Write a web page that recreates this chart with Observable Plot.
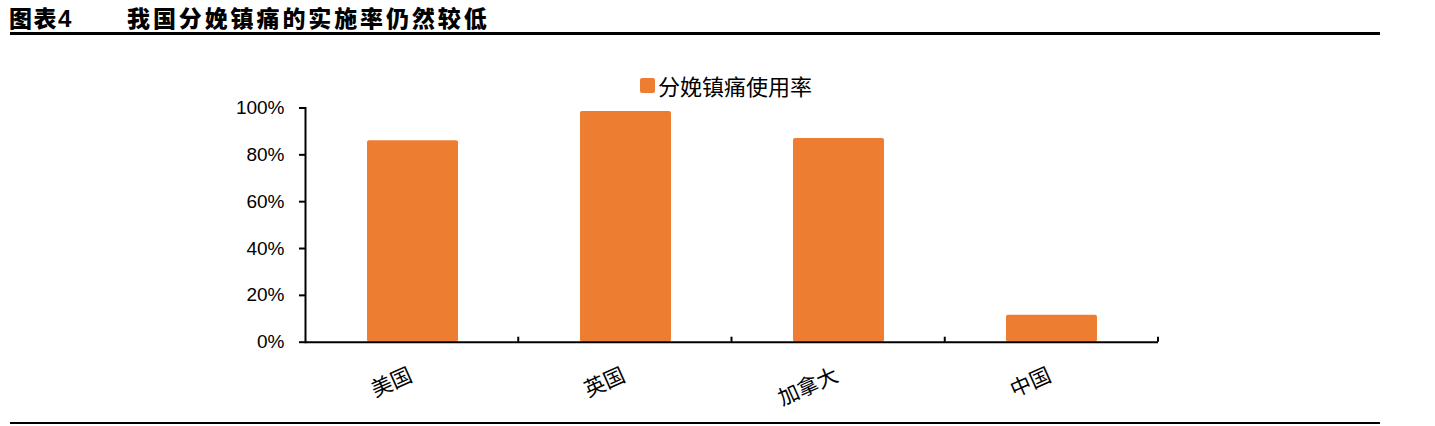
<!DOCTYPE html>
<html>
<head>
<meta charset="utf-8">
<script src="https://cdn.jsdelivr.net/npm/d3@7"></script>
<script src="https://cdn.jsdelivr.net/npm/@observablehq/plot@0.6"></script>
<style>
  html, body { margin: 0; padding: 0; background: #fff; }
  #page { position: relative; width: 1435px; height: 426px; overflow: hidden; background: #fff; }
  .title { position: absolute; top: 0px; font-family: "Noto Sans CJK SC", sans-serif; font-weight: 900; font-size: 23px; line-height: normal; color: #000; white-space: nowrap; }
  .rule { position: absolute; left: 10px; width: 1370px; background: #000; }
  #legend { position: absolute; left: 640px; top: 72px; display: flex; align-items: center; font-family: "Noto Sans CJK SC", sans-serif; font-size: 22px; line-height: 26px; color: #000; white-space: nowrap; }
  #legend .sw { width: 15px; height: 15px; background: #ED7D31; border-radius: 2px; margin-right: 3px; }
  #chart { position: absolute; left: 0; top: 60px; }
</style>
</head>
<body>
<div id="page">
  <div class="title" style="left:9px; letter-spacing:1.5px;">图表<span style="font-family:'Liberation Sans',Arial,sans-serif; font-size:24px;">4</span></div>
  <div class="title" style="left:127px; letter-spacing:2.9px;">我国分娩镇痛的实施率仍然较低</div>
  <div class="rule" style="top:32px; height:2.5px;"></div>
  <div id="legend"><div class="sw"></div><span id="legend-text"></span></div>
  <div id="chart"></div>
  <div class="rule" style="top:421.5px; height:2.5px;"></div>
</div>
<script>
const categories = ["美国", "英国", "加拿大", "中国"];
const rates = [86, 98.5, 87, 11.5];
const yTicks = [0, 20, 40, 60, 80, 100];
const seriesName = "分娩镇痛使用率";
const barColor = "#ED7D31";

const data = categories.map((c, i) => ({country: c, rate: rates[i]}));
document.getElementById("legend-text").textContent = seriesName;

const boundaryTicks = (index, scales, values, dimensions) => {
  const {width, marginLeft, marginRight} = dimensions;
  const step = (width - marginLeft - marginRight) / categories.length;
  const y0 = scales.y(0);
  const g = d3.create("svg:g").attr("stroke", "#000").attr("stroke-width", 2);
  for (let i = 1; i <= categories.length; i++) {
    const x = marginLeft + i * step;
    g.append("line").attr("x1", x).attr("x2", x).attr("y1", y0).attr("y2", y0 - 5);
  }
  return g.node();
};

const chart = Plot.plot({
  width: 1435,
  height: 360,
  marginLeft: 305,
  marginRight: 277,
  marginTop: 47.5,
  marginBottom: 78.3,
  style: {background: "transparent", fontFamily: "'Liberation Sans', Arial, sans-serif", color: "#000"},
  x: {domain: categories, paddingInner: 0.575, paddingOuter: 0.2875, axis: null},
  y: {domain: [0, 100], axis: null},
  marks: [
    Plot.barY(data, {x: "country", y: "rate", fill: barColor, rx: 2}),
    Plot.axisY({ticks: yTicks, tickFormat: d => d + "%", tickSize: 6, tickPadding: 15, fontSize: 19, strokeWidth: 2, label: null}),
    Plot.ruleY([0], {strokeWidth: 2}),
    Plot.frame({anchor: "left", strokeWidth: 2}),
    boundaryTicks,
    Plot.text(categories, {x: d => d, frameAnchor: "bottom", text: d => d, rotate: -24, textAnchor: "end", lineAnchor: "middle", dx: -2, dy: 32, fontSize: 21, fontFamily: "'Noto Sans CJK SC', sans-serif", fill: "#000"})
  ]
});
document.getElementById("chart").appendChild(chart);
</script>
</body>
</html>
